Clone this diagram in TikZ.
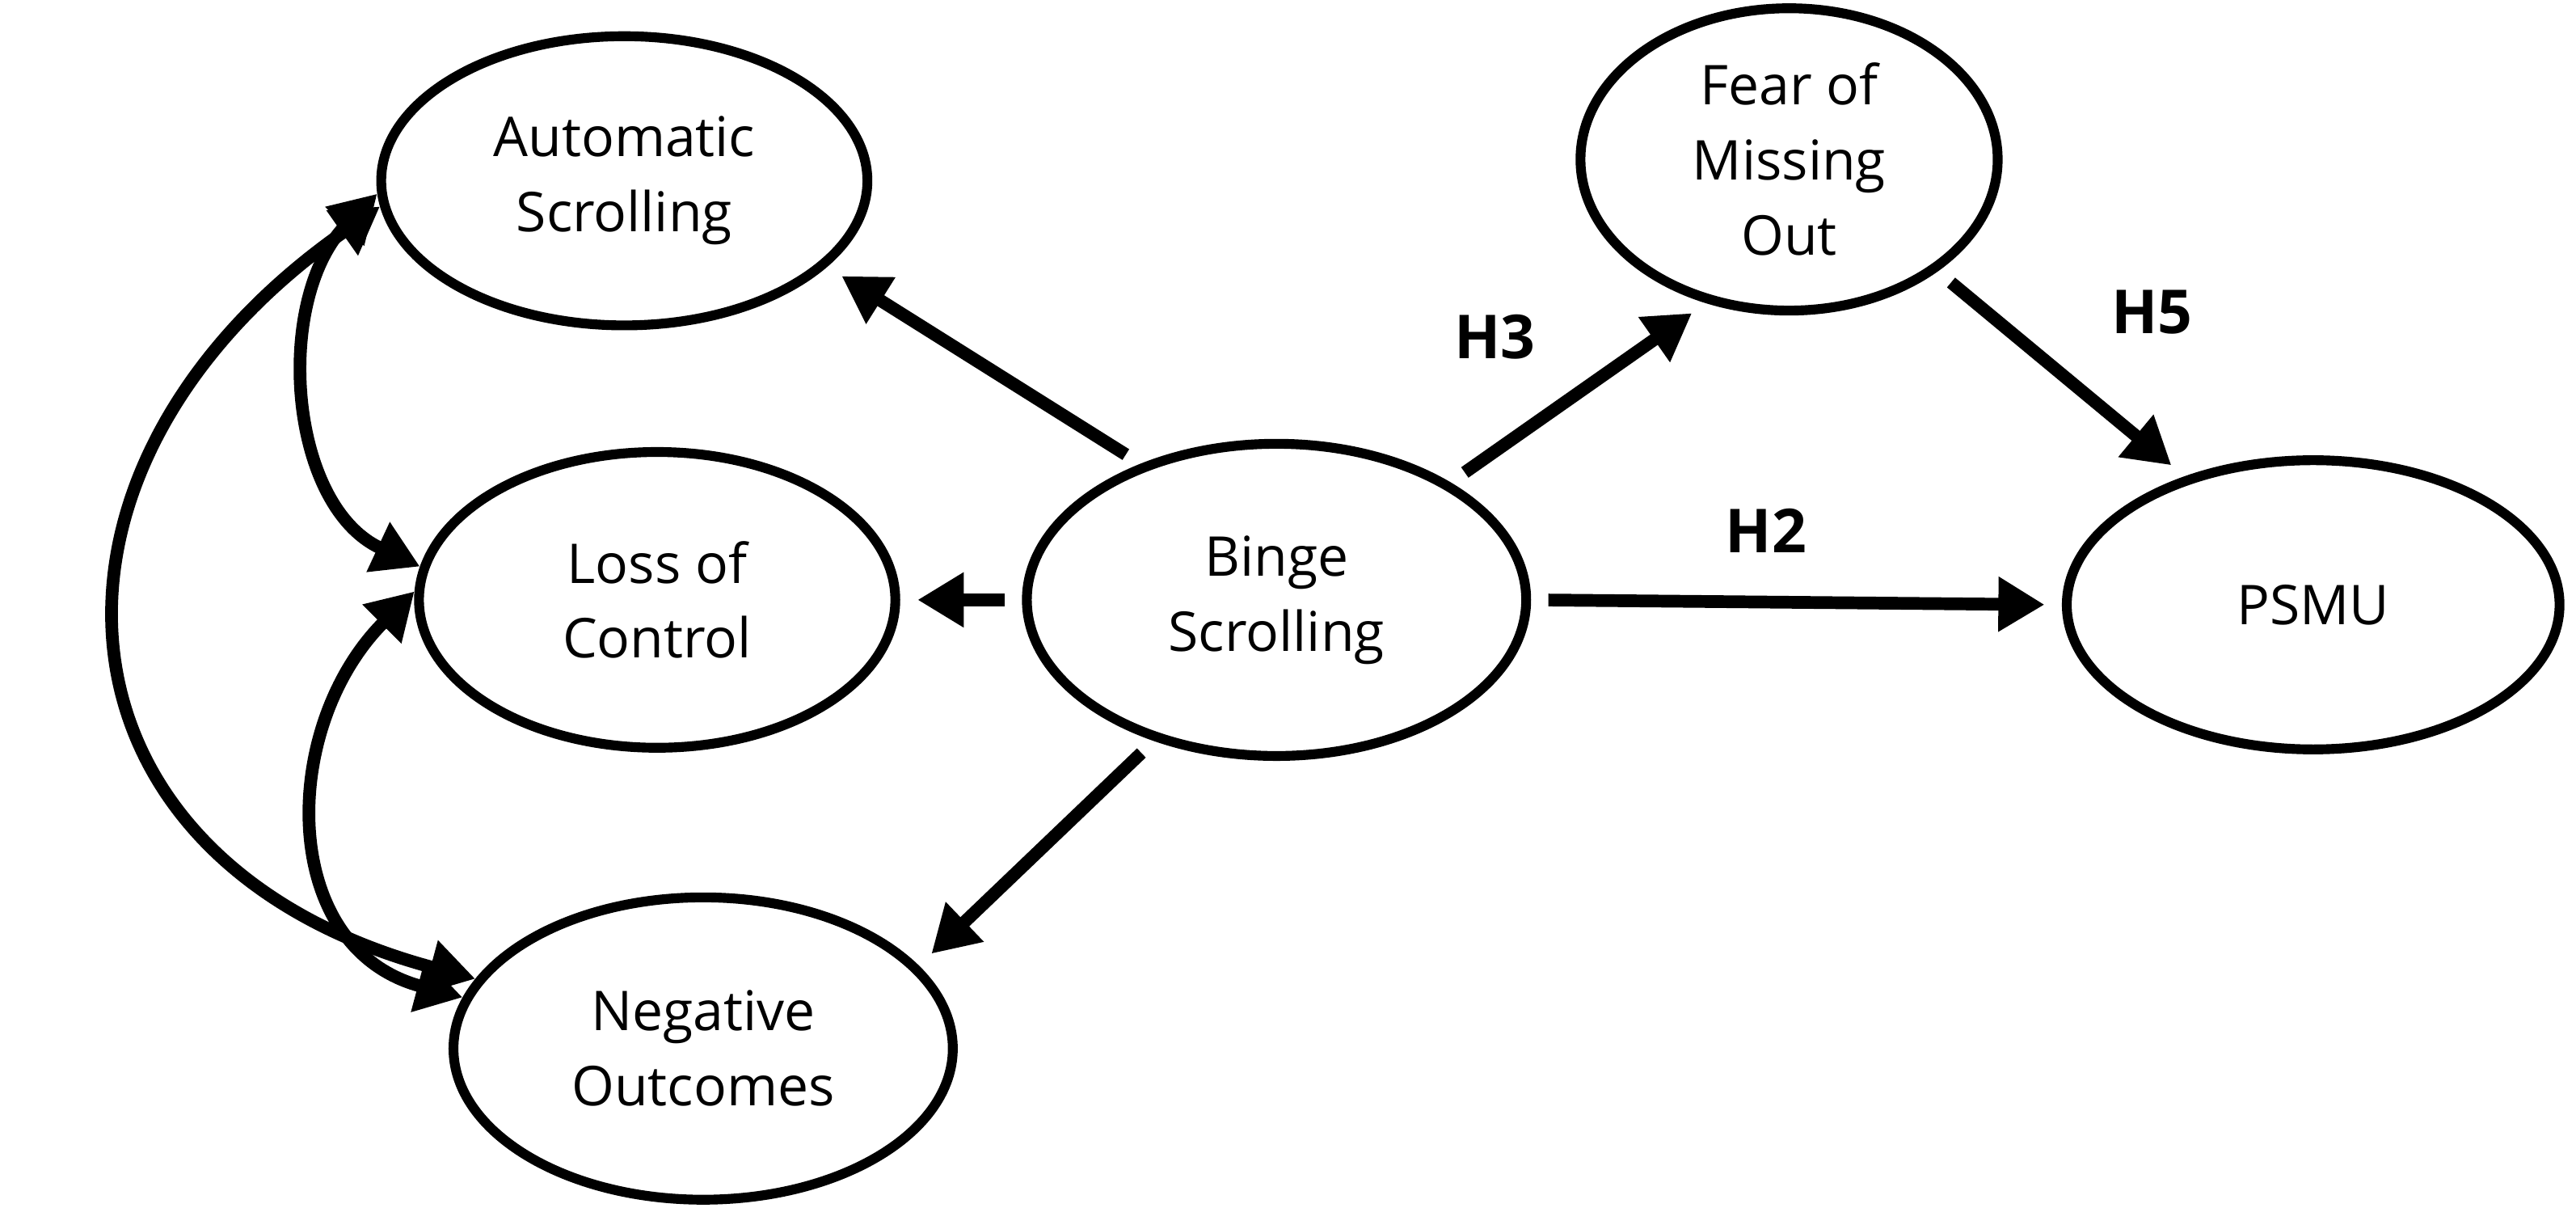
\documentclass[tikz,border=0pt]{standalone}
\usepackage{fontspec}
\setmainfont{Open Sans}
\usetikzlibrary{shapes.geometric, arrows.meta}

\tikzset{
  latent/.style={draw, ellipse, line width=3.4pt, align=center, inner sep=0pt,
    font=\fontsize{19}{26}\selectfont},
  path/.style={line width=4.4pt, -{Triangle[length=16pt, width=18pt]},
    shorten <=6pt, shorten >=6pt},
  cov/.style={line width=4.4pt, {Triangle[length=16pt, width=18pt]}-{Triangle[length=16pt, width=18pt]}},
  hyp/.style={font=\bfseries\fontsize{21}{25}\selectfont}
}

\begin{document}
\begin{tikzpicture}[x=0.02cm, y=-0.02cm]
  \useasboundingbox (0,0) rectangle (1568,735);

  % Latent constructs
  \node[latent, minimum width=5.92cm, minimum height=3.52cm] (as) at (380,110) {Automatic\\Scrolling};
  \node[latent, minimum width=5.8cm, minimum height=3.6cm] (lc) at (400,365) {Loss of\\Control};
  \node[latent, minimum width=6.08cm, minimum height=3.68cm] (no) at (428,638) {Negative\\Outcomes};
  \node[latent, minimum width=6.08cm, minimum height=3.8cm] (bs) at (777,365) {Binge\\Scrolling};
  \node[latent, minimum width=5.08cm, minimum height=3.68cm] (fm) at (1089,97) {Fear of\\Missing\\Out};
  \node[latent, minimum width=6cm, minimum height=3.52cm] (pu) at (1408,368) {PSMU};

  % Paths from binge scrolling
  \draw[path] (bs.135) -- (as.-23);
  \draw[path] (bs.180) -- (lc.0);
  \draw[path] (bs.229) -- (no.21);
  \draw[path] (bs.34) -- (fm.240);
  \draw[path] (bs.0) -- (pu.180);
  \draw[path] (fm.-37) -- (pu.135);

  % Hypothesis labels
  \node[hyp] (h3) at (910,205) {H3};
  \node[hyp] (h2) at (1075,323) {H2};
  \node[hyp] (h5) at (1310,190) {H5};

  % Covariances
  \draw[cov] (as.183) to[out=225, in=155] (lc.172);
  \draw[cov] (lc.178) to[out=225, in=165, looseness=1.2] (no.168);
  \draw[cov] (as.186) to[out=215, in=165, looseness=1.5] (no.163);
\end{tikzpicture}
\end{document}
